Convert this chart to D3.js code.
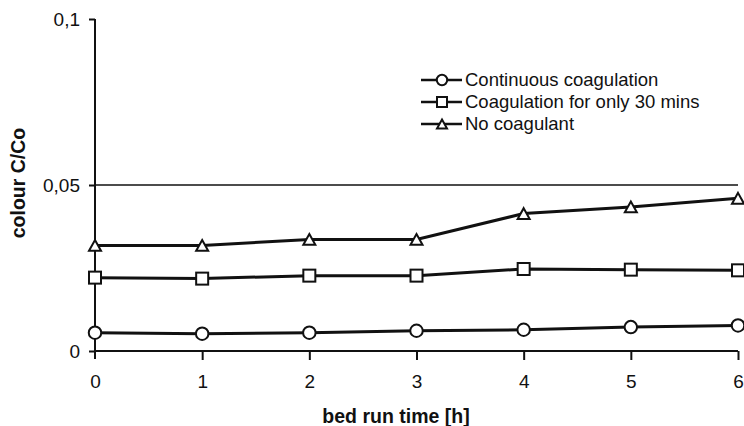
<!DOCTYPE html>
<head>
    <meta charset="utf-8">
    <style>
        body { margin: 0; background: #fff; }
        svg { font-family: "Liberation Sans", Arial, sans-serif; }
        .series-line { fill: none; stroke: #111; stroke-width: 3px; }
        .marker { fill: #fff; stroke: #111; stroke-width: 2px; }
        .axis path, .axis line { stroke: #111; stroke-width: 2px; }
        .axis text { font-size: 19px; fill: #111; }
        .ref-line { stroke: #111; stroke-width: 1.6px; }
        .legend-text { font-size: 18.5px; fill: #111; }
        .title { font-size: 19.5px; font-weight: bold; fill: #111; }
    </style>
</head>

<body>
    <script src="https://cdn.jsdelivr.net/npm/d3@7"></script>

    <script>
        var width = 744,
            height = 426;

        // bed run time [h]
        var hours = [0, 1, 2, 3, 4, 5, 6];

        // colour C/Co
        var continuous = [0.0055, 0.0052, 0.0055, 0.0061, 0.0064, 0.0072, 0.0077];
        var only30 = [0.0221, 0.0218, 0.0227, 0.0227, 0.0247, 0.0245, 0.0243];
        var noCoagulant = [0.0318, 0.0318, 0.0336, 0.0336, 0.0414, 0.0434, 0.0460];

        var seriesNames = ["Continuous coagulation", "Coagulation for only 30 mins", "No coagulant"];
        var seriesSymbols = ["circle", "square", "triangle"];
        var yTicks = [0, 0.05, 0.1];

        var series = [continuous, only30, noCoagulant];

        var x = d3.scaleLinear().domain([0, 6]).range([95, 738]);
        var y = d3.scaleLinear().domain([0, 0.1]).range([351, 19]);

        var svg = d3.select("body").append("svg")
            .attr("width", width)
            .attr("height", height);

        //the 0,05 reference line across the plot
        svg.append("line")
            .attr("class", "ref-line")
            .attr("x1", x(0)).attr("x2", x(6))
            .attr("y1", y(0.05)).attr("y2", y(0.05));

        //y axis
        var yAxis = svg.append("g")
            .attr("class", "axis")
            .attr("transform", "translate(" + x(0) + ",0)")
            .call(d3.axisLeft(y)
                .tickValues(yTicks)
                .tickSize(6)
                .tickPadding(9)
                .tickFormat(function(d) { return d === 0 ? "0" : String(d).replace(".", ","); }));
        yAxis.select(".domain").remove();
        yAxis.append("line")
            .attr("y1", y(0.1)).attr("y2", y(0) + 8);

        //x axis
        var xAxis = svg.append("g")
            .attr("class", "axis")
            .attr("transform", "translate(0," + y(0) + ")")
            .call(d3.axisBottom(x)
                .tickValues(hours)
                .tickSize(9)
                .tickPadding(15)
                .tickFormat(d3.format("d")));
        xAxis.select(".domain").remove();
        xAxis.append("line")
            .attr("x1", x(0)).attr("x2", x(6));
        xAxis.selectAll(".tick line").filter(function(d) { return d === 0; }).remove();

        function drawSymbol(g, type, cx, cy, s) {
            if (type === "circle") {
                g.append("circle").attr("class", "marker")
                    .attr("cx", cx).attr("cy", cy).attr("r", s * 0.52);
            } else if (type === "square") {
                g.append("rect").attr("class", "marker")
                    .attr("x", cx - s / 2).attr("y", cy - s / 2)
                    .attr("width", s).attr("height", s);
            } else {
                var h = s * 0.9;
                g.append("path").attr("class", "marker")
                    .attr("d", "M" + cx + "," + (cy - h / 2) +
                        "L" + (cx + s / 2) + "," + (cy + h / 2) +
                        "L" + (cx - s / 2) + "," + (cy + h / 2) + "Z");
            }
        }

        var line = d3.line()
            .x(function(d, i) { return x(hours[i]); })
            .y(function(d) { return y(d); });

        series.forEach(function(values, k) {
            svg.append("path")
                .datum(values)
                .attr("class", "series-line")
                .attr("d", line);
            var g = svg.append("g");
            values.forEach(function(v, i) {
                drawSymbol(g, seriesSymbols[k], x(hours[i]), y(v), 12);
            });
        });

        //legend
        var legendY = d3.scaleLinear().domain([0, 2]).range([80, 124]);
        seriesNames.forEach(function(name, k) {
            var g = svg.append("g");
            g.append("line")
                .attr("class", "series-line")
                .style("stroke-width", "2.5px")
                .attr("x1", 421).attr("x2", 462)
                .attr("y1", legendY(k)).attr("y2", legendY(k));
            drawSymbol(g, seriesSymbols[k], 442, legendY(k), 10);
            g.append("text")
                .attr("class", "legend-text")
                .attr("x", 465)
                .attr("y", legendY(k))
                .attr("dy", "0.35em")
                .text(name);
        });

        //axis titles
        svg.append("text")
            .attr("class", "title")
            .attr("x", 396)
            .attr("y", 423)
            .style("text-anchor", "middle")
            .text("bed run time [h]");

        svg.append("text")
            .attr("class", "title")
            .attr("transform", "translate(25,183) rotate(-90)")
            .style("text-anchor", "middle")
            .text("colour C/Co");
    </script>
</body>
